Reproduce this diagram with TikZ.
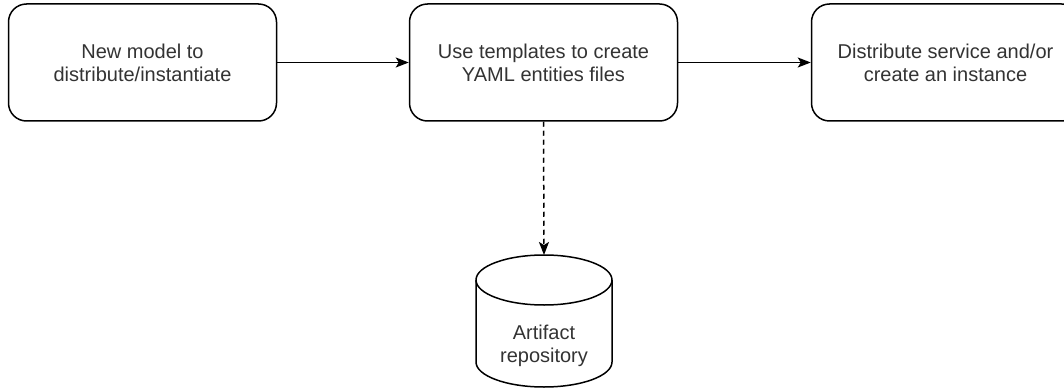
\documentclass[tikz,border=0pt]{standalone}
\usepackage{fontspec}
\setmainfont{Liberation Sans}
\usetikzlibrary{arrows.meta}
\definecolor{txtgray}{HTML}{333333}
\begin{document}
\begin{tikzpicture}[x=1pt,y=-1pt,line width=1.5pt,
  every node/.style={text=txtgray,font=\fontsize{20}{23}\selectfont,align=center},
  stepbox/.style={draw,rounded corners=18pt,minimum width=268pt,minimum height=117pt},
  flow/.style={-{Stealth[length=13pt,width=10pt,inset=3pt]}}]
\useasboundingbox (0,0) rectangle (1064,390);
\node[stepbox] (model) at (142.5, 62.5) {New model to\\distribute/instantiate};
\node[stepbox] (yaml) at (543.5, 62.5) {Use templates to create\\YAML entities files};
\node[stepbox] (deploy) at (945.5, 62.5) {Distribute service and/or\\create an instance};
% cylinder for the repository
\draw (476,280) -- (476,362) arc[start angle=180,end angle=360,x radius=68pt,y radius=25pt] -- (612,280);
\draw (544,280) ellipse [x radius=68pt,y radius=25pt];
\coordinate (repotop) at (544,255);
\node (repo) at (544, 346) {Artifact\\repository};
\draw[flow] (model) -- (yaml);
\draw[flow] (yaml) -- (deploy);
\draw[flow,dashed,dash pattern=on 5pt off 4pt] (yaml.south) -- (repotop);
\end{tikzpicture}
\end{document}
